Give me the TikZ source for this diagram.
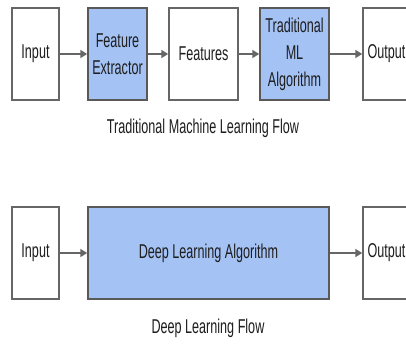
\documentclass[tikz,border=0pt]{standalone}
\usepackage{fontspec}
\setmainfont[FakeStretch=0.63]{Liberation Sans}
\usetikzlibrary{arrows.meta}
\definecolor{boxline}{HTML}{666666}
\definecolor{algoline}{HTML}{595959}
\definecolor{algofill}{HTML}{A4C2F4}
\definecolor{inkgray}{HTML}{1E1E1E}
\begin{document}
\begin{tikzpicture}[x=1pt,y=-1pt,
  plainbox/.style={draw=boxline, line width=1.5pt, fill=white, inner sep=0pt,
    minimum height=92pt, text=inkgray, align=center,
    font=\fontsize{20}{27}\selectfont},
  algobox/.style={plainbox, fill=algofill, draw=algoline},
  flow/.style={draw=boxline, line width=1.8pt, -{Triangle[length=7pt,width=8pt]}},
  caption/.style={text=inkgray, font=\fontsize{20}{24}\selectfont}]
\clip (0,0) rectangle (406,345);
\fill[white] (0,0) rectangle (406,345);

% traditional machine learning pipeline
\node[plainbox, minimum width=47pt] (in1) at (35.5,54) {Input};
\node[algobox, minimum width=59pt] (fe) at (117.5,54) {Feature\\Extractor};
\node[plainbox, minimum width=69pt] (feat) at (203.5,54) {Features};
\node[algobox, minimum width=69pt] (tml) at (294.5,54) {Traditional\\ML\\Algorithm};
\node[plainbox, minimum width=47pt] (out1) at (386.5,54) {Output};
\draw[flow] (in1) -- (fe);
\draw[flow] (fe) -- (feat);
\draw[flow] (feat) -- (tml);
\draw[flow] (tml) -- (out1);
\node[caption] (cap1) at (203,128) {Traditional Machine Learning Flow};

% deep learning pipeline
\node[plainbox, minimum width=47pt] (in2) at (35.5,253) {Input};
\node[algobox, minimum width=241pt] (dl) at (208.5,253) {Deep Learning Algorithm};
\node[plainbox, minimum width=47pt] (out2) at (386.5,253) {Output};
\draw[flow] (in2) -- (dl);
\draw[flow] (dl) -- (out2);
\node[caption] (cap2) at (208,328) {Deep Learning Flow};
\end{tikzpicture}
\end{document}
